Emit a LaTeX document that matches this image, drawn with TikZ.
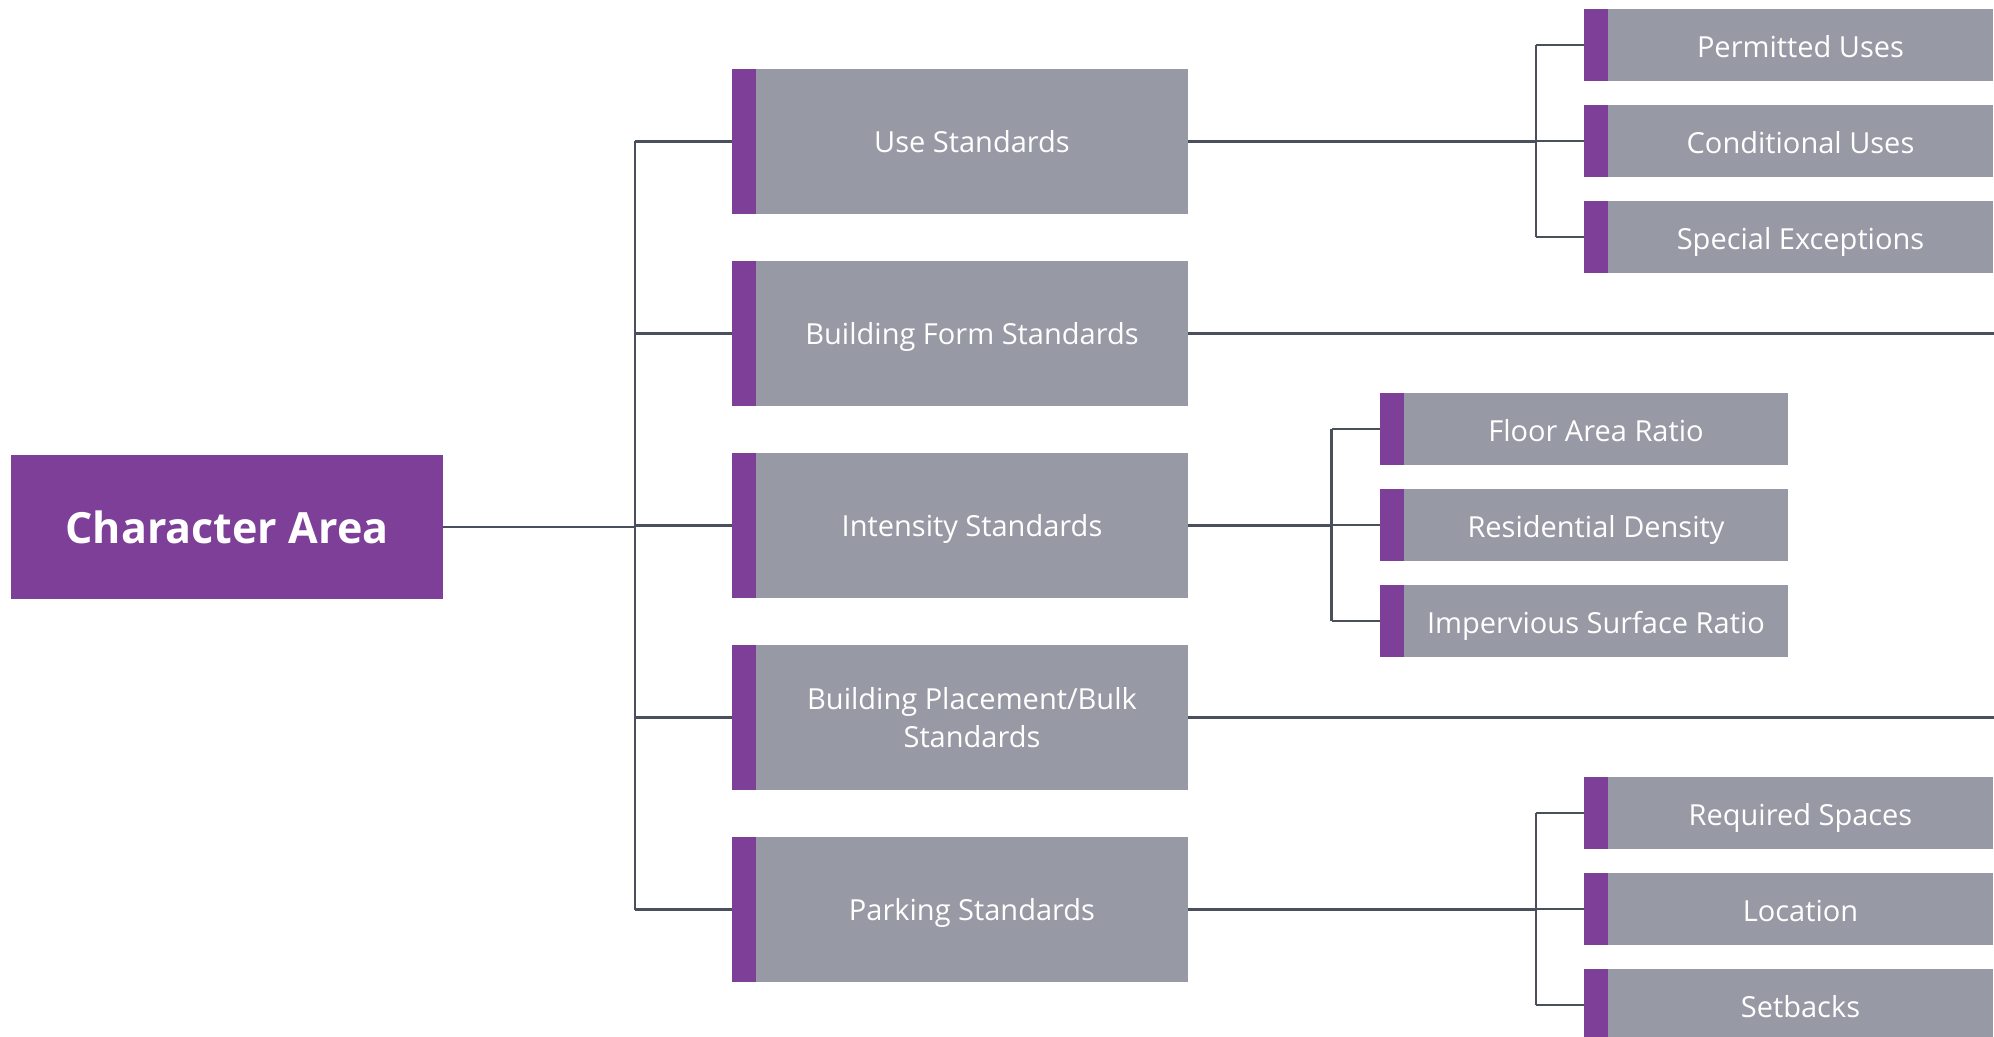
\documentclass[tikz,border=0pt]{standalone}
\usepackage{fontspec}
\setmainfont{Open Sans}

\definecolor{barpurple}{HTML}{7E3F98}
\definecolor{boxgray}{HTML}{979AA5}
\definecolor{linkgray}{HTML}{4A4F5C}

\newlength\barw
\setlength\barw{12pt}

\tikzset{
  link/.style={draw=linkgray, line width=1.25pt},
  rootbox/.style={fill=barpurple, text=white, inner sep=0pt,
    minimum width=216pt, minimum height=72pt,
    font=\fontsize{21.5}{26}\selectfont\bfseries},
  % fixed text height/depth keep every single-line baseline at the same spot
  stdbox/.style={fill=boxgray, text=white, inner sep=0pt, align=center,
    minimum width=216pt, minimum height=72.5pt,
    text height=10.8pt, text depth=0pt,
    font=\fontsize{14.5}{19}\selectfont},
  itembox/.style={fill=boxgray, text=white, inner sep=0pt, align=center,
    minimum width=192.5pt, minimum height=36pt,
    text height=12.3pt, text depth=0pt,
    font=\fontsize{14.5}{19}\selectfont},
}

\begin{document}
\begin{tikzpicture}[x=0.5pt, y=-0.5pt]
\useasboundingbox (0,0) rectangle (1994,1037);
\clip (0,0) rectangle (1994,1037);

% root
\node[rootbox] (ca) at (227,527) {Character Area};

% standards (grey part of each box; the purple bar sits to its left)
\node[stdbox] (use)   at (972,141.5) {Use Standards};
\node[stdbox] (form)  at (972,333.5) {Building Form Standards};
\node[stdbox] (inten) at (972,525.5) {Intensity Standards};
\node[stdbox, text height={}, text depth={}] (place) at (972,717.5) {Building Placement/Bulk\\Standards};
\node[stdbox] (park)  at (972,909.5) {Parking Standards};

% use standards items
\node[itembox] (pu) at (1800.5,45)  {Permitted Uses};
\node[itembox] (cu) at (1800.5,141) {Conditional Uses};
\node[itembox] (se) at (1800.5,237) {Special Exceptions};

% intensity items
\node[itembox, minimum width=192pt] (far) at (1596,429) {Floor Area Ratio};
\node[itembox, minimum width=192pt] (rd)  at (1596,525) {Residential Density};
\node[itembox, minimum width=192pt] (isr) at (1596,621) {Impervious Surface Ratio};

% parking items
\node[itembox] (rs)  at (1800.5,813)  {Required Spaces};
\node[itembox] (loc) at (1800.5,909)  {Location};
\node[itembox] (sb)  at (1800.5,1005) {Setbacks};

% purple accent bars
\foreach \n in {use,form,inten,place,park,pu,cu,se,far,rd,isr,rs,loc,sb}
  \fill[barpurple] ([xshift=-\barw]\n.north west) rectangle (\n.south west);

% trunk from the root to the standards
\coordinate (trunk) at (635,0);
\draw[link] (ca.east) -- (ca.east -| trunk);
\draw[link] (trunk |- use.west) -- (trunk |- park.west);
\foreach \n in {use,form,inten,place,park}
  \draw[link] (trunk |- \n.west) -- ([xshift=-\barw]\n.west);

% use standards bracket
\coordinate (ub) at (1536,0);
\draw[link] (use.east) -- (use.east -| ub);
\draw[link] (ub |- pu.west) -- (ub |- se.west);
\foreach \n in {pu,cu,se}
  \draw[link] (ub |- \n.west) -- ([xshift=-\barw]\n.west);

% intensity bracket
\coordinate (ib) at (1331.5,0);
\draw[link] (inten.east) -- (inten.east -| ib);
\draw[link] (ib |- far.west) -- (ib |- isr.west);
\foreach \n in {far,rd,isr}
  \draw[link] (ib |- \n.west) -- ([xshift=-\barw]\n.west);

% parking bracket
\coordinate (pb) at (1536,0);
\draw[link] (park.east) -- (park.east -| pb);
\draw[link] (pb |- rs.west) -- (pb |- sb.west);
\foreach \n in {rs,loc,sb}
  \draw[link] (pb |- \n.west) -- ([xshift=-\barw]\n.west);

% lines running off the right edge
\coordinate (edge) at (1994,0);
\draw[link] (form.east) -- (form.east -| edge);
\draw[link] (place.east) -- (place.east -| edge);
\end{tikzpicture}
\end{document}
